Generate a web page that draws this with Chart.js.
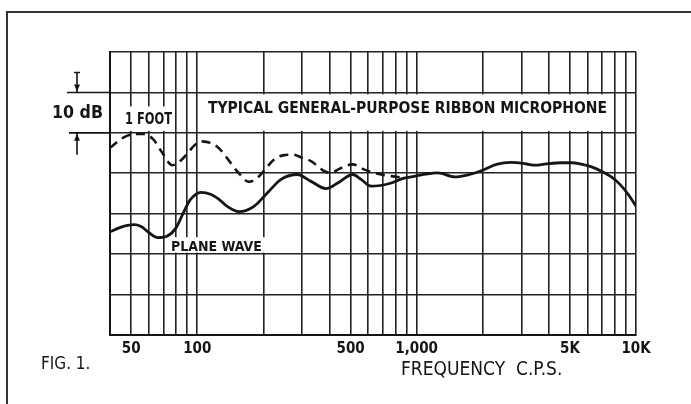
<!DOCTYPE html>
<html>
<head>
<meta charset="utf-8">
<script src="https://cdn.jsdelivr.net/npm/chart.js@4/dist/chart.umd.min.js"></script>
<style>
  html, body { margin: 0; background: #fff; }
  #wrap { width: 691px; height: 404px; }
</style>
</head>
<body>
<div id="wrap"><canvas id="chart" width="691" height="404"></canvas></div>
<script>
// response curves (frequency in c.p.s., level in dB, 10 dB per grid row)
const footFreq = [40, 46, 52, 57, 63, 69, 77, 85, 92, 97, 104, 115, 126, 140, 152, 172, 188, 202, 224, 249, 272, 302, 330, 360, 380, 407, 444, 511, 578, 665, 766, 880];
const footDb   = [-3.7, -1.2, -0.3, -0.3, -1.6, -4.8, -8.0, -6.6, -4.5, -3.1, -2.1, -2.5, -3.9, -7.0, -9.5, -12.1, -11.1, -9.3, -6.6, -5.5, -5.4, -6.2, -7.0, -8.6, -9.5, -9.9, -8.9, -7.8, -9.1, -10.1, -10.7, -11.1];

const planeFreq = [40, 44, 48, 52, 56, 60, 66, 73, 80, 87, 93, 104, 115, 128, 137, 155, 182, 209, 241, 286, 330, 386, 437, 511, 558, 620, 766, 852, 944, 1100, 1250, 1490, 1740, 2010, 2310, 2700, 3170, 3460, 3990, 4580, 5100, 5670, 6270, 6960, 7720, 8470, 9240, 10000];
const planeDb   = [-24.5, -23.5, -22.9, -22.7, -23.3, -24.6, -25.9, -25.5, -23.5, -19.4, -16.5, -14.7, -15.2, -16.8, -18.2, -19.5, -18.1, -14.8, -11.5, -10.3, -12.0, -13.8, -12.4, -10.3, -11.5, -13.2, -12.4, -11.4, -10.9, -10.2, -9.9, -10.9, -10.3, -9.2, -7.8, -7.3, -7.7, -8.0, -7.6, -7.4, -7.4, -7.8, -8.4, -9.5, -10.9, -12.8, -15.3, -18.1];

// log paper rulings and the few labelled frequencies
const gridFreqs = [40, 50, 60, 70, 80, 90, 100, 200, 300, 400, 500, 600, 700, 800, 900,
                   1000, 2000, 3000, 4000, 5000, 6000, 7000, 8000, 9000, 10000];
const labelFreqs = [50, 100, 500, 1000, 5000, 10000];
const labelText  = ['50', '100', '500', '1,000', '5K', '10K'];

const INK = '#151515';
const COND = '"DejaVu Sans Condensed", "DejaVu Sans", sans-serif';

function toPoints(xs, ys) {
    return xs.map((f, i) => ({x: f, y: ys[i]}));
}

function textFit(ctx, str, x, y, width, font, align) {
    ctx.font = font;
    ctx.textAlign = align || 'left';
    ctx.fillText(str, x, y, width);
}

// white label boxes inside the grid, drawn over the rulings but under the curves
const labelsInside = {
    id: 'labelsInside',
    beforeDatasetsDraw(chart) {
        const ctx = chart.ctx;
        const xs = chart.scales.x, ys = chart.scales.y;
        const rowTop = ys.getPixelForValue(10) + 2;
        const rowBot = ys.getPixelForValue(0) - 2;
        ctx.save();
        ctx.fillStyle = '#fff';
        // title box
        const tL = xs.getPixelForValue(100) + 3, tR = xs.getPixelForValue(8000) - 3;
        ctx.fillRect(tL, rowTop, tR - tL, rowBot - rowTop);
        // "1 FOOT" box
        const fL = xs.getPixelForValue(40) + 2, fR = xs.getPixelForValue(80) - 2;
        ctx.fillRect(fL, rowTop + 12, fR - fL, rowBot - rowTop - 12);
        // "PLANE WAVE" box
        const pTop = ys.getPixelForValue(-30) - 17, pBot = ys.getPixelForValue(-30) - 1.5;
        ctx.fillRect(170, pTop, 95, pBot - pTop);

        ctx.fillStyle = INK;
        ctx.textBaseline = 'middle';
        textFit(ctx, 'TYPICAL GENERAL-PURPOSE RIBBON MICROPHONE', 208, 109, 399, 'bold 16px ' + COND);
        textFit(ctx, '1 FOOT', 125, 120, 47, 'bold 16px ' + COND);
        textFit(ctx, 'PLANE WAVE', 171, 247, 92, 'bold 14px ' + COND);
        ctx.restore();
    }
};

// frame, 10 dB scale marker and captions outside the grid
const labelsOutside = {
    id: 'labelsOutside',
    afterDraw(chart) {
        const ctx = chart.ctx;
        const ys = chart.scales.y;
        const left = chart.chartArea.left;
        const y10 = ys.getPixelForValue(10), y0 = ys.getPixelForValue(0);
        ctx.save();
        ctx.strokeStyle = '#333';
        ctx.lineWidth = 2;
        ctx.strokeRect(7, 12, 700, 420);

        ctx.strokeStyle = INK;
        ctx.fillStyle = INK;
        ctx.lineWidth = 1.6;
        ctx.beginPath();
        ctx.moveTo(67, y10); ctx.lineTo(left, y10);
        ctx.moveTo(69, y0); ctx.lineTo(left, y0);
        ctx.moveTo(77, y10 - 20); ctx.lineTo(77, y10);
        ctx.moveTo(77, y0); ctx.lineTo(77, y0 + 22);
        ctx.moveTo(74, y10 - 20); ctx.lineTo(80, y10 - 20);
        ctx.stroke();
        // arrow heads
        ctx.beginPath();
        ctx.moveTo(77, y10 - 1); ctx.lineTo(74, y10 - 8); ctx.lineTo(80, y10 - 8); ctx.closePath();
        ctx.moveTo(77, y0 + 1); ctx.lineTo(74, y0 + 8); ctx.lineTo(80, y0 + 8); ctx.closePath();
        ctx.fill();

        ctx.textBaseline = 'middle';
        textFit(ctx, '10 dB', 52, 113, 51, 'bold 18px ' + COND);
        textFit(ctx, 'FIG. 1.', 41, 365, 51, '17px ' + COND);
        textFit(ctx, 'FREQUENCY  C.P.S.', 401, 370, 164, '19px ' + COND);
        ctx.restore();
    }
};

new Chart(document.getElementById('chart'), {
    type: 'line',
    data: {
        datasets: [
            {
                label: '1 FOOT',
                data: toPoints(footFreq, footDb),
                borderColor: INK,
                borderWidth: 2.6,
                borderDash: [9, 6],
                pointRadius: 0,
                cubicInterpolationMode: 'monotone',
                fill: false
            },
            {
                label: 'PLANE WAVE',
                data: toPoints(planeFreq, planeDb),
                borderColor: INK,
                borderWidth: 2.8,
                pointRadius: 0,
                cubicInterpolationMode: 'monotone',
                fill: false
            }
        ]
    },
    options: {
        responsive: false,
        animation: false,
        layout: {padding: {left: 110, right: 55, top: 52, bottom: 0}},
        plugins: {legend: {display: false}, tooltip: {enabled: false}},
        scales: {
            x: {
                type: 'logarithmic',
                min: 40,
                max: 10000,
                afterBuildTicks: (scale) => {
                    scale.ticks = gridFreqs.map(v => ({value: v}));
                },
                afterFit: (scale) => { scale.height = 69; },
                grid: {color: '#222', lineWidth: 1.6, drawTicks: false},
                border: {color: INK, width: 2},
                ticks: {
                    autoSkip: false,
                    maxRotation: 0,
                    padding: 5,
                    color: INK,
                    font: {family: COND, weight: 'bold', size: 15},
                    callback: (value) => {
                        const i = labelFreqs.indexOf(value);
                        return i >= 0 ? labelText[i] : '';
                    }
                }
            },
            y: {
                min: -50,
                max: 20,
                afterFit: (scale) => { scale.width = 0; },
                grid: {color: '#222', lineWidth: 1.6, drawTicks: false},
                border: {color: INK, width: 2},
                ticks: {display: false, stepSize: 10}
            }
        }
    },
    plugins: [labelsInside, labelsOutside]
});
</script>
</body>
</html>
